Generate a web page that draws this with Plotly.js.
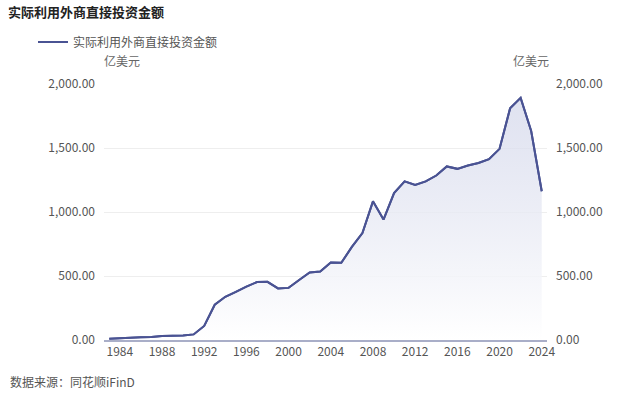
<!DOCTYPE html>
<html>
<head>
<meta charset="utf-8">
<script src="https://cdn.plot.ly/plotly-3.0.1.min.js"></script>
<style>html,body{margin:0;padding:0;background:#fff;}#chart{width:640px;height:396px;}</style>
</head>
<body>
<div id="chart"></div>
<script>
const years = [1983,1984,1985,1986,1987,1988,1989,1990,1991,1992,1993,1994,1995,1996,1997,1998,1999,2000,2001,2002,2003,2004,2005,2006,2007,2008,2009,2010,2011,2012,2013,2014,2015,2016,2017,2018,2019,2020,2021,2022,2023,2024];
const fdi = [9.16,14.19,19.56,22.44,23.14,31.94,33.92,34.87,43.66,110.07,275.15,337.67,375.21,417.26,452.57,454.63,403.19,407.15,468.78,527.43,535.05,606.30,603.25,727.15,835.21,1083.12,940.65,1147.34,1239.85,1210.73,1239.11,1285.02,1355.77,1337.11,1363.15,1383.06,1412.25,1493.42,1809.57,1891.32,1632.53,1162.00];
const xTicks = [1984,1988,1992,1996,2000,2004,2008,2012,2016,2020,2024];
const yTicks = [0,500,1000,1500,2000];
const seriesName = '实际利用外商直接投资金额';
const titleText = '实际利用外商直接投资金额';
const unitText = '亿美元';
const sourceText = '数据来源：同花顺iFinD';

const lineColor = '#4a5393';
const FONT = '"Noto Sans CJK SC", "Noto Sans", sans-serif';

const traces = [
  {
    x: years, y: fdi, type: 'scatter', mode: 'lines',
    line: {color: lineColor, width: 2},
    fill: 'tozeroy',
    fillgradient: {type: 'vertical', colorscale: [[0, 'rgba(255,255,255,0.9)'], [1, 'rgba(210,214,234,0.7)']]},
    showlegend: false, hoverinfo: 'skip'
  },
  {
    x: years, y: fdi, type: 'scatter', mode: 'lines', yaxis: 'y2',
    line: {color: lineColor, width: 2},
    name: seriesName, showlegend: true, hoverinfo: 'skip'
  }
];

const yax = {
  range: [0, 2000], tickvals: yTicks, tickformat: ',.2f',
  showgrid: true, gridcolor: '#eeeeee', gridwidth: 1,
  zeroline: false, showline: false, ticks: '',
  tickfont: {family: FONT, size: 12, color: '#555555'},
  fixedrange: true
};

const layout = {
  width: 640, height: 396,
  margin: {l: 104, r: 93, t: 84, b: 56},
  paper_bgcolor: '#ffffff', plot_bgcolor: '#ffffff',
  font: {family: FONT, color: '#555555'},
  title: {text: '<b>' + titleText + '</b>', x: 8/640, xref: 'container', xanchor: 'left', y: 1, yref: 'container', yanchor: 'top',
          pad: {t: 8}, font: {family: FONT, size: 13, color: '#222222'}},
  xaxis: {
    range: [1982.5, 2024.5], tickvals: xTicks, tickformat: 'd',
    showgrid: false, zeroline: false,
    showline: true, linecolor: '#a9aec8', linewidth: 1.5,
    ticks: '', tickfont: {family: FONT, size: 12, color: '#555555'},
    fixedrange: true
  },
  yaxis: Object.assign({}, yax, {side: 'left', ticklabelstandoff: 8}),
  yaxis2: Object.assign({}, yax, {side: 'right', overlaying: 'y', showgrid: false, ticklabelstandoff: 8}),
  showlegend: true,
  legend: {
    x: (33-104)/443, xref: 'paper', xanchor: 'left', y: (340-42)/256, yref: 'paper', yanchor: 'middle',
    orientation: 'h', bgcolor: 'rgba(0,0,0,0)',
    font: {family: FONT, size: 12, color: '#555555'},
    itemwidth: 30
  },
  annotations: [
    {text: unitText, xref: 'paper', yref: 'paper', x: (122-104)/443, y: (340-60)/256, xanchor: 'center', yanchor: 'middle', showarrow: false, font: {family: FONT, size: 12, color: '#666666'}},
    {text: unitText, xref: 'paper', yref: 'paper', x: (531-104)/443, y: (340-60)/256, xanchor: 'center', yanchor: 'middle', showarrow: false, font: {family: FONT, size: 12, color: '#666666'}},
    {text: sourceText, xref: 'paper', yref: 'paper', x: (8-104)/443, y: (340-381)/256, xanchor: 'left', yanchor: 'middle', showarrow: false, font: {family: FONT, size: 12, color: '#555555'}}
  ]
};

Plotly.newPlot('chart', traces, layout, {displayModeBar: false, staticPlot: true});
</script>
</body>
</html>
